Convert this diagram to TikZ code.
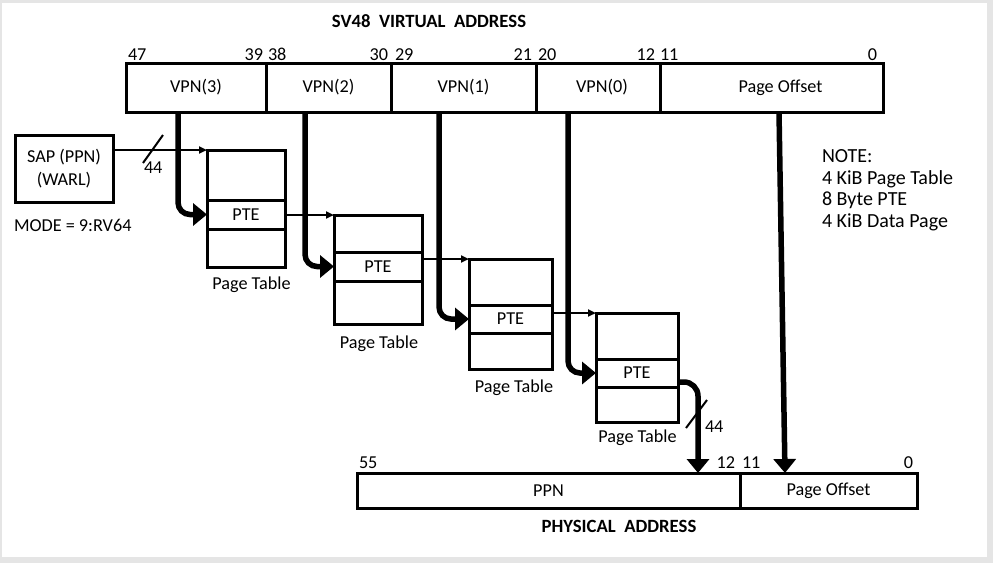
\documentclass[tikz,border=0pt]{standalone}
\usepackage{fontspec}
\setmainfont{Carlito}
\usetikzlibrary{arrows.meta}
\begin{document}
\begin{tikzpicture}[x=1pt,y=-1pt,
  every node/.style={font=\fontsize{18.2pt}{21pt}\selectfont, inner sep=0pt, outer sep=0pt},
  boldtxt/.style={font=\fontsize{18.7pt}{21pt}\selectfont\bfseries},
  notetxt/.style={font=\fontsize{20pt}{22pt}\selectfont},
  field/.style={draw, line width=3pt},
  thickarrow/.style={line width=5.5pt, rounded corners=12pt, -{Triangle[length=14pt,width=22pt]}},
  thinarrow/.style={line width=2pt, -{Triangle[length=8pt,width=7pt]}},
  slash/.style={line width=2pt}]
\useasboundingbox (0,0) rectangle (993,563);
\fill[black!10] (0,0) rectangle (993,563);
\fill[white] (1.5,3) rectangle (987,557);

% title
\node[boldtxt, anchor=base] (title) at (429,27) {SV48\ \ VIRTUAL\ \ ADDRESS};

% virtual address register
\node[field, minimum width=140pt, minimum height=49pt] (vpn3) at (196,87.5) {VPN(3)};
\node[field, minimum width=125pt, minimum height=49pt] (vpn2) at (328.5,87.5) {VPN(2)};
\node[field, minimum width=145pt, minimum height=49pt] (vpn1) at (463.5,87.5) {VPN(1)};
\node[field, minimum width=124pt, minimum height=49pt] (vpn0) at (598,87.5) {\hspace*{8pt}VPN(0)};
\node[field, minimum width=223pt, minimum height=49pt] (voff) at (771.5,87.5) {\hspace*{18pt}Page Offset};

% bit numbers
\node[anchor=base west] (b47) at (128,60) {47};
\node[anchor=base east] (b39) at (263,60) {39};
\node[anchor=base west] (b38) at (268,60) {38};
\node[anchor=base east] (b30) at (388,60) {30};
\node[anchor=base west] (b29) at (395,60) {29};
\node[anchor=base east] (b21) at (532,60) {21};
\node[anchor=base west] (b20) at (538,60) {20};
\node[anchor=base east] (b12) at (655,60) {12};
\node[anchor=base west] (b11) at (660,60) {11};
\node[anchor=base east] (b0) at (877,60) {0};

% SAP
\node[field, minimum width=98pt, minimum height=67pt, align=center,
      font=\fontsize{18.2pt}{23pt}\selectfont] (sap) at (64,168.5) {SAP (PPN)\\(WARL)};
\node[anchor=base west] (mode) at (14,231) {MODE = 9:RV64};

% NOTE
\node[notetxt, anchor=base west] (note1) at (822,162) {NOTE:};
\node[notetxt, anchor=base west] (note2) at (822,184) {4 KiB Page Table};
\node[notetxt, anchor=base west] (note3) at (822,205.5) {8 Byte PTE};
\node[notetxt, anchor=base west] (note4) at (822,227) {4 KiB Data Page};

% page table 1
\node[field, minimum width=78pt, minimum height=50pt] (pt1top) at (246,175) {};
\node[field, minimum width=78pt, minimum height=29pt] (pt1pte) at (246,214.5) {PTE};
\node[field, minimum width=78pt, minimum height=38pt] (pt1bot) at (246,248) {};
\node[anchor=base] (pt1lab) at (251.5,289) {Page Table};
% page table 2
\node[field, minimum width=88pt, minimum height=37pt] (pt2top) at (378,233.5) {};
\node[field, minimum width=88pt, minimum height=29pt] (pt2pte) at (378,266.5) {PTE};
\node[field, minimum width=88pt, minimum height=43pt] (pt2bot) at (378,302.5) {};
\node[anchor=base] (pt2lab) at (379,348) {Page Table};
% page table 3
\node[field, minimum width=83pt, minimum height=46pt] (pt3top) at (510.5,282) {};
\node[field, minimum width=83pt, minimum height=28pt] (pt3pte) at (510.5,319) {PTE};
\node[field, minimum width=83pt, minimum height=36pt] (pt3bot) at (510.5,351) {};
\node[anchor=base] (pt3lab) at (514,392) {Page Table};
% page table 4
\node[field, minimum width=82pt, minimum height=46pt] (pt4top) at (637,336) {};
\node[field, minimum width=82pt, minimum height=28pt] (pt4pte) at (637,373) {PTE};
\node[field, minimum width=82pt, minimum height=35pt] (pt4bot) at (637,404.5) {};
\node[anchor=base] (pt4lab) at (637.5,442) {Page Table};

% physical address register
\node[field, minimum width=383pt, minimum height=35pt] (ppn) at (548.5,490.5) {PPN};
\node[field, minimum width=177pt, minimum height=35pt] (poff) at (828.5,490.5) {Page Offset};
\node[anchor=base west] (p55) at (359,468) {55};
\node[anchor=base east] (p12) at (735,468) {12};
\node[anchor=base west] (p11) at (742,468) {11};
\node[anchor=base east] (p0) at (913,468) {0};
\node[boldtxt, anchor=base] (ptitle) at (619,532) {PHYSICAL\ \ ADDRESS};

% thin arrows
\draw[thinarrow] (sap.east |- pt1top.north) -- (pt1top.north west);
\draw[thinarrow] (pt1pte.east |- pt2top.north) -- (pt2top.north west);
\draw[thinarrow] (pt2pte.east |- pt3top.north) -- (pt3top.north west);
\draw[thinarrow] (pt3pte.east |- pt4top.north) -- (pt4top.north west);

% slashes with widths
\draw[slash] (143,163) -- (163,135);
\node[anchor=base west] (w1) at (144,173) {44};
\draw[slash] (686,428) -- (707,400);
\node[anchor=base west] (w2) at (705,432) {44};

% thick arrows
\draw[thickarrow] ([xshift=-18pt]vpn3.south) |- (pt1pte.west);
\draw[thickarrow] ([xshift=-23.5pt]vpn2.south) |- (pt2pte.west);
\draw[thickarrow] ([xshift=-24.5pt]vpn1.south) |- (pt3pte.west);
\draw[thickarrow] ([xshift=-30pt]vpn0.south) |- (pt4pte.west);
\draw[thickarrow, rounded corners=14pt] ([yshift=-9pt]pt4pte.east) -| ([xshift=149.5pt]ppn.north);
\draw[thickarrow] ([xshift=7.5pt]voff.south) -- ([xshift=-43.5pt]poff.north);
\end{tikzpicture}
\end{document}
